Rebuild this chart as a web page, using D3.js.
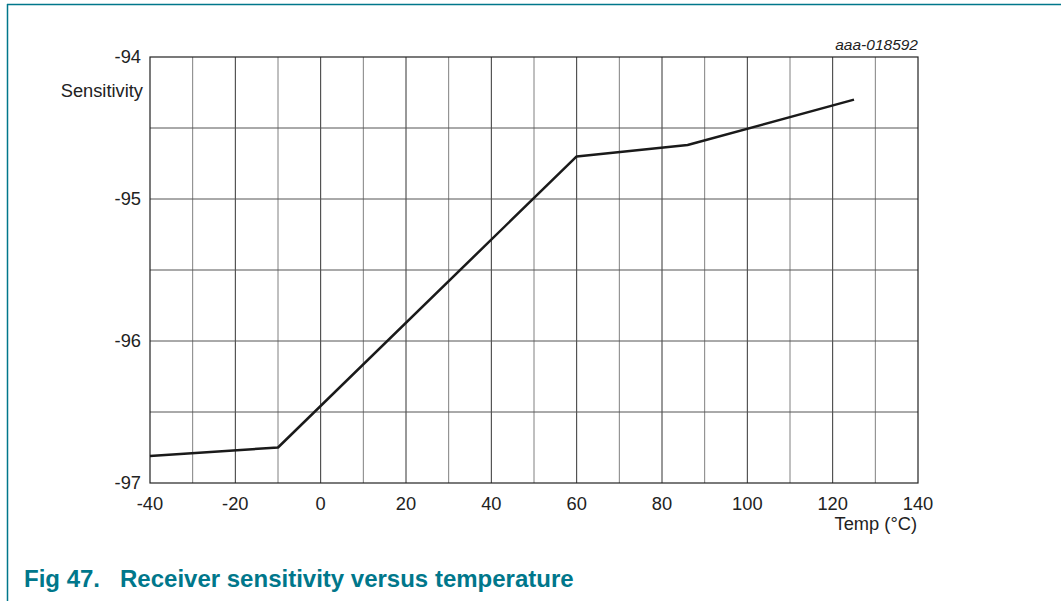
<!DOCTYPE html>
<html>
<head>
<meta charset="utf-8">
<script src="https://cdn.jsdelivr.net/npm/d3@7"></script>
<style>
  body { margin: 0; background: #fff; }
  svg { font-family: "Liberation Sans", Arial, sans-serif; }
</style>
</head>
<body>
<div id="chart"></div>
<script>
var temps = [-40, -10, 60, 86, 125];
var sensitivity = [-96.81, -96.75, -94.70, -94.62, -94.30];
var xTicks = [-40, -20, 0, 20, 40, 60, 80, 100, 120, 140];
var yTicks = [-97, -96, -95, -94];

var width = 1061, height = 601,
    teal = "#00778b",
    fs = 18.3;

var svg = d3.select("#chart").append("svg")
    .attr("width", width)
    .attr("height", height);

// figure frame (top and left edges only)
svg.append("line").attr("x1", 7).attr("x2", width).attr("y1", 4.5).attr("y2", 4.5)
    .attr("stroke", teal).attr("stroke-width", 1.5);
svg.append("line").attr("x1", 7.5).attr("x2", 7.5).attr("y1", 4).attr("y2", height)
    .attr("stroke", teal).attr("stroke-width", 1.5);

var x = d3.scaleLinear().domain([-40, 140]).range([150, 918]);
var y = d3.scaleLinear().domain([-97, -94]).range([483, 57]);

// grid
var g = svg.append("g");
g.selectAll("line.vx").data(d3.range(-30, 140, 10)).enter().append("line")
    .attr("x1", function(d) { return x(d); }).attr("x2", function(d) { return x(d); })
    .attr("y1", y(-97)).attr("y2", y(-94))
    .attr("stroke", function(d) { return d % 20 === 0 ? "#333" : "#808080"; })
    .attr("stroke-width", 1);
g.selectAll("line.hy").data(d3.range(-96.5, -94, 0.5)).enter().append("line")
    .attr("x1", x(-40)).attr("x2", x(140))
    .attr("y1", function(d) { return y(d); }).attr("y2", function(d) { return y(d); })
    .attr("stroke", "#555")
    .attr("stroke-width", 1);
g.append("rect")
    .attr("x", x(-40)).attr("y", y(-94))
    .attr("width", x(140) - x(-40)).attr("height", y(-97) - y(-94))
    .attr("fill", "none").attr("stroke", "#222").attr("stroke-width", 1.2);

// axes labels
svg.append("g").selectAll("text").data(xTicks).enter().append("text")
    .attr("x", function(d) { return x(d); })
    .attr("y", 510)
    .attr("text-anchor", "middle")
    .attr("font-size", fs).attr("fill", "#222")
    .text(function(d) { return d; });
svg.append("g").selectAll("text").data(yTicks).enter().append("text")
    .attr("x", 141)
    .attr("y", function(d) { return y(d) + 6; })
    .attr("text-anchor", "end")
    .attr("font-size", fs).attr("fill", "#222")
    .text(function(d) { return d; });

svg.append("text").attr("x", 143).attr("y", 97).attr("text-anchor", "end")
    .attr("font-size", fs).attr("fill", "#222").text("Sensitivity");
svg.append("text").attr("x", 917).attr("y", 530).attr("text-anchor", "end")
    .attr("font-size", fs).attr("fill", "#222").text("Temp (°C)");
svg.append("text").attr("x", 918).attr("y", 50).attr("text-anchor", "end")
    .attr("font-size", 15.5).attr("font-style", "italic").attr("fill", "#222").text("aaa-018592");

// data line
var pts = temps.map(function(t, i) { return [t, sensitivity[i]]; });
var line = d3.line()
    .x(function(d) { return x(d[0]); })
    .y(function(d) { return y(d[1]); });
svg.append("path").datum(pts)
    .attr("d", line)
    .attr("fill", "none")
    .attr("stroke", "#1a1a1a")
    .attr("stroke-width", 2.5)
    .attr("stroke-linejoin", "round");

// caption
svg.append("text").attr("x", 24).attr("y", 587)
    .attr("font-size", 24).attr("font-weight", "bold").attr("fill", teal)
    .attr("xml:space", "preserve")
    .text("Fig 47.   Receiver sensitivity versus temperature");
</script>
</body>
</html>
